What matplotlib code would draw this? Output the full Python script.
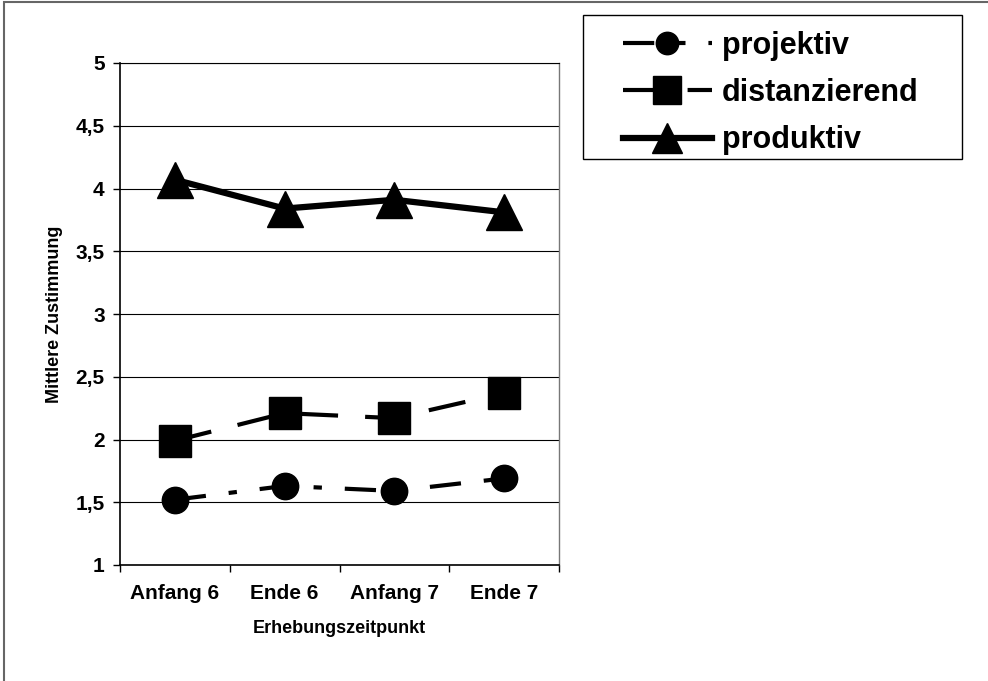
import matplotlib.pyplot as plt
from matplotlib.patches import Rectangle
from matplotlib.ticker import FuncFormatter

plt.rcParams["font.family"] = ["Liberation Sans", "DejaVu Sans"]
plt.rcParams["font.weight"] = "bold"

zeitpunkte = ["Anfang 6", "Ende 6", "Anfang 7", "Ende 7"]
projektiv = [1.52, 1.63, 1.59, 1.69]
distanzierend = [1.99, 2.21, 2.17, 2.37]
produktiv = [4.07, 3.84, 3.91, 3.81]
y_ticks = [1, 1.5, 2, 2.5, 3, 3.5, 4, 4.5, 5]

fig = plt.figure(figsize=(9.88, 6.81), dpi=100)
ax = fig.add_axes([120 / 988, 1 - 565 / 681, 439 / 988, 502 / 681])

x = list(range(len(zeitpunkte)))

ax.plot(x, projektiv, color="black", lw=3, linestyle=(0, (7.5, 5.5, 2, 5.5)),
        marker="o", markersize=19, label="projektiv", zorder=3)
ax.plot(x, distanzierend, color="black", lw=3, linestyle=(0, (9, 6.5)),
        marker="s", markersize=23, label="distanzierend", zorder=3)
ax.plot(x, produktiv, color="black", lw=4.5, linestyle="-",
        marker="^", markersize=26, label="produktiv", zorder=3)

ax.set_xlim(-0.5, len(zeitpunkte) - 0.5)
ax.set_ylim(1, 5)
ax.set_yticks(y_ticks)
ax.yaxis.set_major_formatter(FuncFormatter(lambda v, p: f"{v:g}".replace(".", ",")))
ax.yaxis.grid(True, color="black", lw=0.8)
ax.set_axisbelow(True)

# Kategorien mittig, Striche zwischen den Kategorien (wie Excel)
ax.set_xticks([i - 0.5 for i in range(len(zeitpunkte) + 1)])
ax.set_xticklabels([])
ax.set_xticks(x, minor=True)
ax.set_xticklabels(zeitpunkte, minor=True)
ax.tick_params(axis="x", which="minor", length=0, pad=14, labelsize=15)
ax.tick_params(axis="x", which="major", direction="out", length=5, width=1)
ax.tick_params(axis="y", direction="out", length=5, width=1, pad=6, labelsize=15)

for lbl in ax.get_xticklabels(minor=True) + ax.get_yticklabels():
    lbl.set_fontweight("bold")

ax.spines["left"].set_linewidth(1.2)
ax.spines["bottom"].set_linewidth(1.2)
ax.spines["top"].set_linewidth(0.8)
ax.spines["right"].set_color("#777777")
ax.spines["right"].set_linewidth(1)

ax.set_xlabel("Erhebungszeitpunkt", fontsize=13, fontweight="bold", labelpad=12)
ax.set_ylabel("Mittlere Zustimmung", fontsize=13, fontweight="bold", labelpad=9)

# Legende ohne eigenen Rahmen, Rahmen separat (breiter als die Legende)
leg = fig.legend(loc="upper left", bbox_to_anchor=(623 / 988, 1 - 31 / 681),
                 frameon=False, prop={"size": 22, "weight": "bold"},
                 handlelength=2.9, handletextpad=0.33, labelspacing=0.56,
                 borderpad=0, borderaxespad=0, markerscale=0.85)
fig.patches.append(Rectangle((583 / 988, 1 - 159 / 681), 379 / 988, 144 / 681,
                             transform=fig.transFigure, fill=False,
                             edgecolor="black", lw=1))

# grauer Rahmen um die ganze Grafik
fig.patches.append(Rectangle((4 / 988, -0.1), 1.1, 1 - 2 / 681 + 0.1,
                             transform=fig.transFigure, fill=False,
                             edgecolor="#666666", lw=1.5))

fig.savefig("out.png", dpi=100)
